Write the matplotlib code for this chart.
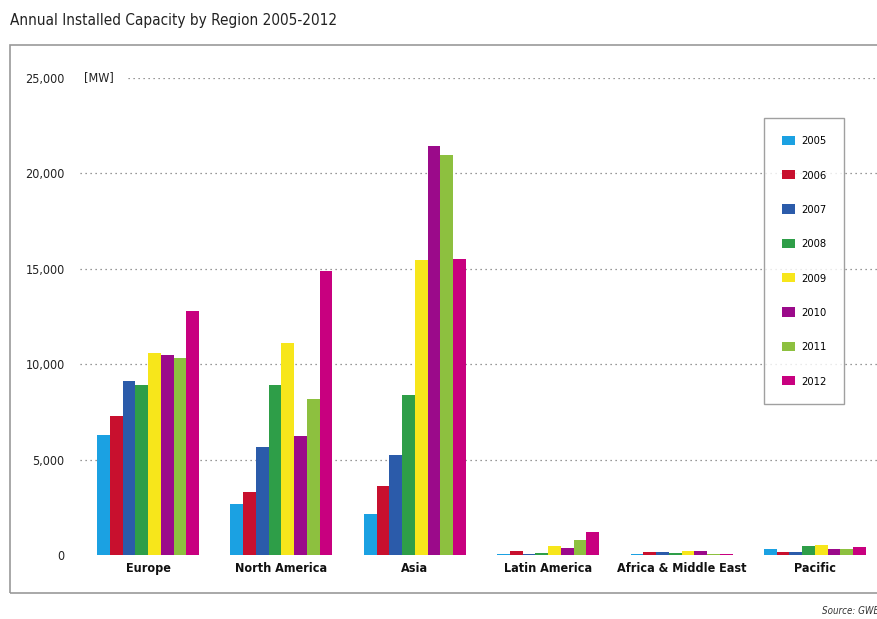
import matplotlib.pyplot as plt
import matplotlib.font_manager as fm
from matplotlib.patches import Rectangle
import numpy as np

regions = ['Europe', 'North America', 'Asia', 'Latin America',
           'Africa & Middle East', 'Pacific']
years = ['2005', '2006', '2007', '2008', '2009', '2010', '2011', '2012']

# MW per region, one list per year
y2005 = [6300, 2650, 2150, 50, 50, 300]
y2006 = [7300, 3300, 3600, 200, 150, 150]
y2007 = [9100, 5650, 5250, 50, 150, 150]
y2008 = [8900, 8900, 8400, 130, 80, 450]
y2009 = [10600, 11100, 15450, 470, 200, 520]
y2010 = [10500, 6250, 21450, 380, 200, 300]
y2011 = [10300, 8150, 20950, 790, 60, 300]
y2012 = [12800, 14900, 15500, 1200, 60, 400]
values = [y2005, y2006, y2007, y2008, y2009, y2010, y2011, y2012]

colors = ['#1BA1E2', '#C8102E', '#2B5BAA', '#2E9E48',
          '#F7E61B', '#9B0A8A', '#8DC03F', '#C8007F']

yticks = [0, 5000, 10000, 15000, 20000, 25000]

# condensed face if the system has one
cond = [f for f in fm.fontManager.ttflist
        if f.name == 'DejaVu Sans' and 'condensed' in str(f.stretch)]
if cond:
    plt.rcParams['font.stretch'] = 'condensed'
    k = 1.0
else:
    k = 0.85
plt.rcParams['font.family'] = ['DejaVu Sans']

W, H = 877, 619
fig = plt.figure(figsize=(W / 100, H / 100), dpi=100)

# plot area: y=0 at pixel 555, 25,000 at pixel 78
ax = fig.add_axes([80 / W, (H - 555) / H, (W - 80) / W, (555 - 78) / H])
ax.set_ylim(0, 25000)
ax.set_xlim(-0.51, 5.465)

x = np.arange(len(regions))
bw = 0.0956
for i, (yr, vals) in enumerate(zip(years, values)):
    ax.bar(x + (i - 3.5) * bw, vals, width=bw, color=colors[i], label=yr,
           zorder=3)

# dotted grid lines
for t in yticks[1:]:
    xmin = 0.06 if t == 25000 else 0.0
    ax.axhline(t, xmin=xmin, xmax=1, color='#777777', linestyle=(0, (1, 3)),
               linewidth=0.9, zorder=1)

for s in ax.spines.values():
    s.set_visible(False)
ax.set_yticks(yticks)
ax.set_yticklabels(['{:,}'.format(t) for t in yticks], fontsize=9 * k,
                   color='#222222')
ax.tick_params(axis='y', length=0, pad=11)
ax.set_xticks(x)
ax.set_xticklabels(regions, fontsize=9 * k, fontweight='bold', color='#111111')
ax.tick_params(axis='x', length=0, pad=5)

fig.text(84 / W, 1 - 78 / H, '[MW]', fontsize=9 * k,
         va='center', ha='left', color='#222222')

# outer frame and title
fig.patches.append(Rectangle((10 / W, (H - 593) / H), 1.0, (593 - 45) / H,
                             transform=fig.transFigure, fill=False,
                             edgecolor='#999999', linewidth=1.2))
fig.text(10 / W, 1 - 20 / H, 'Annual Installed Capacity by Region 2005-2012',
         fontsize=11 * k, color='#222222', va='center', ha='left')
fig.text(822 / W, 1 - 611 / H, 'Source: GWEC', fontsize=7 * k, style='italic',
         color='#333333', va='center', ha='left')

leg = fig.legend(loc='upper left', bbox_to_anchor=(764 / W, 1 - 118 / H),
                 fontsize=8 * k, frameon=True, fancybox=False,
                 edgecolor='#888888', handlelength=1.2, handleheight=0.9,
                 labelspacing=2.15, borderpad=1.6, handletextpad=0.55,
                 borderaxespad=0)
leg.get_frame().set_linewidth(1.0)

fig.savefig('out.png', dpi=100)
